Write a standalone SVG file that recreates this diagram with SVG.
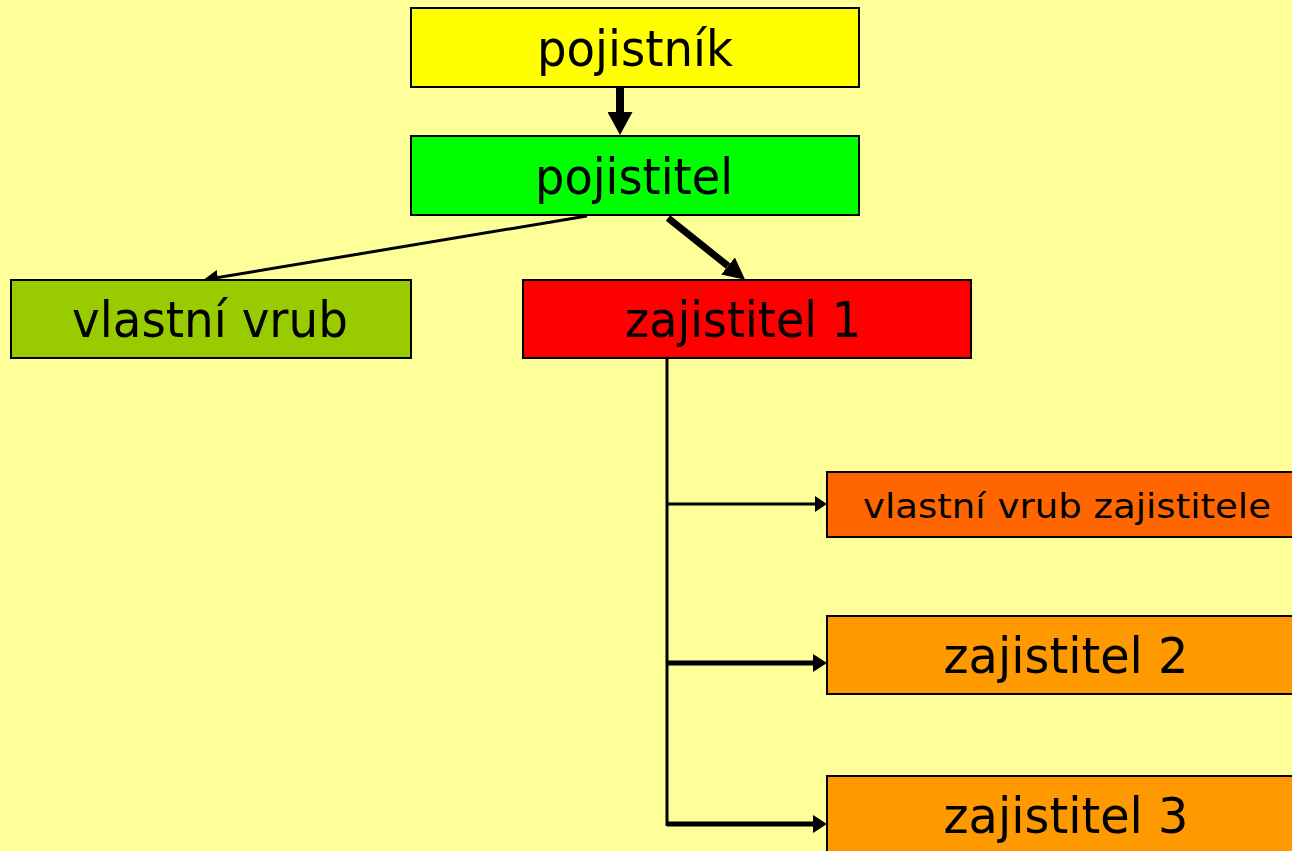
<svg xmlns="http://www.w3.org/2000/svg" width="1292" height="851" viewBox="0 0 1292 851">
<style>
.box{stroke:#000;stroke-width:2}
.t{font-family:"DejaVu Sans",Verdana,sans-serif;fill:#000;text-anchor:middle}
.big{font-size:50.5px}
.small{font-size:34px}
.c{stroke:#000;fill:none;stroke-linecap:butt}
</style>
<defs>
<marker id="hBig" markerUnits="userSpaceOnUse" markerWidth="23" markerHeight="25" refX="0" refY="12.5" orient="auto" viewBox="0 0 23 25"><path d="M0,0 L23,12.5 L0,25 z" fill="#000"/></marker>
<marker id="hMed" markerUnits="userSpaceOnUse" markerWidth="22" markerHeight="22" refX="0" refY="11" orient="auto" viewBox="0 0 22 22"><path d="M0,0 L22,11 L0,22 z" fill="#000"/></marker>
<marker id="hThin" markerUnits="userSpaceOnUse" markerWidth="15" markerHeight="15" refX="0" refY="7.5" orient="auto" viewBox="0 0 15 15"><path d="M0,0 L15,7.5 L0,15 z" fill="#000"/></marker>
<marker id="hSmall" markerUnits="userSpaceOnUse" markerWidth="12" markerHeight="16" refX="0" refY="8" orient="auto" viewBox="0 0 12 16"><path d="M0,0 L12,8 L0,16 z" fill="#000"/></marker>
<marker id="hArm" markerUnits="userSpaceOnUse" markerWidth="14" markerHeight="18" refX="0" refY="9" orient="auto" viewBox="0 0 14 18"><path d="M0,0 L14,9 L0,18 z" fill="#000"/></marker>
</defs>
<rect width="1292" height="851" fill="#FFFF99"/>
<g id="connectors">
<path class="c" d="M620,87 L620,112" stroke-width="8" marker-end="url(#hBig)"/>
<path class="c" d="M587,216 L218,277.5" stroke-width="3" marker-end="url(#hThin)"/>
<path class="c" d="M668,218 L728,266" stroke-width="7" marker-end="url(#hMed)"/>
<path class="c" d="M667,358 L667,826" stroke-width="3"/>
<path class="c" d="M667,504 L815,504" stroke-width="3" marker-end="url(#hSmall)"/>
<path class="c" d="M667,663 L813,663" stroke-width="5" marker-end="url(#hArm)"/>
<path class="c" d="M667,824 L813,824" stroke-width="5" marker-end="url(#hArm)"/>
</g>
<g id="pojistnik"><rect class="box" x="411" y="8" width="448" height="79" fill="#FFFF00"/><text class="t big" x="635" y="65.5" textLength="196" lengthAdjust="spacingAndGlyphs">pojistník</text></g>
<g id="pojistitel"><rect class="box" x="411" y="136" width="448" height="79" fill="#00FF00"/><text class="t big" x="634" y="194" textLength="198" lengthAdjust="spacingAndGlyphs">pojistitel</text></g>
<g id="vlastni-vrub"><rect class="box" x="11" y="280" width="400" height="78" fill="#99CC00"/><text class="t big" x="210" y="337" textLength="276" lengthAdjust="spacingAndGlyphs">vlastní vrub</text></g>
<g id="zajistitel1"><rect class="box" x="523" y="280" width="448" height="78" fill="#FF0000"/><text class="t big" x="743" y="337" textLength="236" lengthAdjust="spacingAndGlyphs">zajistitel 1</text></g>
<g id="vlastni-vrub-zajistitele"><rect class="box" x="827" y="472" width="480" height="65" fill="#FF6600"/><text class="t small" x="1067" y="518" textLength="408" lengthAdjust="spacingAndGlyphs">vlastní vrub zajistitele</text></g>
<g id="zajistitel2"><rect class="box" x="827" y="616" width="480" height="78" fill="#FF9900"/><text class="t big" x="1066" y="673" textLength="245" lengthAdjust="spacingAndGlyphs">zajistitel 2</text></g>
<g id="zajistitel3"><rect class="box" x="827" y="776" width="480" height="90" fill="#FF9900"/><text class="t big" x="1066" y="833" textLength="245" lengthAdjust="spacingAndGlyphs">zajistitel 3</text></g>
</svg>
